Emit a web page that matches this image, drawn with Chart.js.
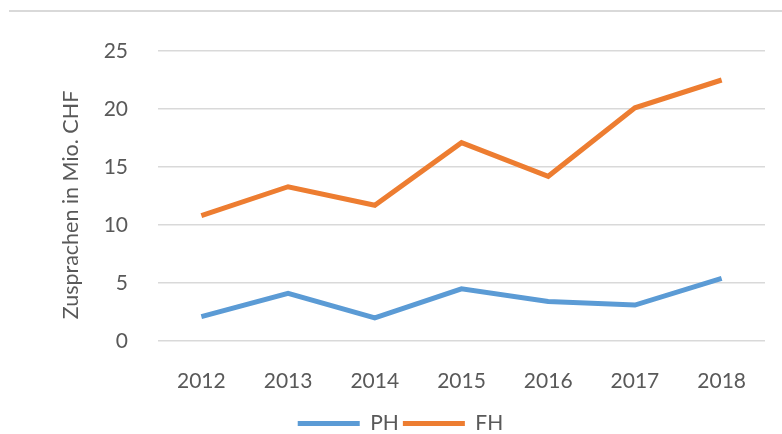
<!DOCTYPE html>
<html>
<head>
<meta charset="utf-8">
<script src="https://cdn.jsdelivr.net/npm/chart.js@4.4.1/dist/chart.umd.min.js"></script>
<style>
  html, body { margin: 0; padding: 0; background: #ffffff; }
  #wrap { position: relative; width: 782px; height: 434px; }
</style>
</head>
<body>
<div id="wrap"><canvas id="chart"></canvas></div>
<script>
// Jahre und Zusprachen (Mio. CHF)
const years = ['2012', '2013', '2014', '2015', '2016', '2017', '2018'];
const phValues = [2.1, 4.1, 2.0, 4.5, 3.4, 3.1, 5.4];
const fhValues = [10.8, 13.3, 11.7, 17.1, 14.2, 20.1, 22.5];
const yTicks = [0, 5, 10, 15, 20, 25];
const yTitle = 'Zusprachen in Mio. CHF';

const textColor = '#595959';
const gridColor = '#d9d9d9';
const fontFamily = 'Lato, "Open Sans", sans-serif';

// thin frame line at the top, like the Excel chart border,
// and the rotated y axis title (sits a bit below the plot centre)
const chartDecor = {
  id: 'chartDecor',
  beforeDraw: function (chart) {
    const ctx = chart.ctx;
    ctx.save();
    ctx.strokeStyle = gridColor;
    ctx.lineWidth = 2;
    ctx.beginPath();
    ctx.moveTo(9, 11);
    ctx.lineTo(chart.width, 11);
    ctx.stroke();
    ctx.restore();
  },
  afterDraw: function (chart) {
    const ctx = chart.ctx;
    const area = chart.chartArea;
    ctx.save();
    ctx.translate(71, (area.top + area.bottom) / 2 + 9);
    ctx.rotate(-Math.PI / 2);
    ctx.fillStyle = textColor;
    ctx.font = '21.5px ' + fontFamily;
    ctx.textAlign = 'center';
    ctx.textBaseline = 'middle';
    ctx.fillText(yTitle, 0, 0);
    ctx.restore();
  }
};

document.addEventListener('DOMContentLoaded', function () {
  const canvas = document.getElementById('chart');
  new Chart(canvas, {
    type: 'line',
    data: {
      labels: years,
      datasets: [
        {
          label: 'PH',
          data: phValues,
          borderColor: '#5b9bd5',
          backgroundColor: '#5b9bd5',
          borderWidth: 5,
          pointRadius: 0,
          tension: 0
        },
        {
          label: 'FH',
          data: fhValues,
          borderColor: '#ed7d31',
          backgroundColor: '#ed7d31',
          borderWidth: 5,
          pointRadius: 0,
          tension: 0
        }
      ]
    },
    options: {
      responsive: true,
      maintainAspectRatio: false,
      animation: false,
      layout: {
        padding: { top: 51, right: 17, bottom: -10, left: 36 }
      },
      scales: {
        x: {
          offset: true,
          grid: { display: false, drawTicks: false },
          border: { display: false },
          ticks: {
            color: textColor,
            font: { family: fontFamily, size: 21 },
            padding: 28,
            maxRotation: 0
          },
          afterFit: function (scale) {
            scale.height = 68;
          }
        },
        y: {
          min: 0,
          max: 25,
          afterBuildTicks: function (scale) {
            scale.ticks = yTicks.map(function (v) { return { value: v }; });
          },
          grid: { color: gridColor, lineWidth: 1.5, drawTicks: false },
          border: { display: false },
          ticks: {
            color: textColor,
            font: { family: fontFamily, size: 21 },
            padding: 30
          },
          afterFit: function (scale) {
            scale.width = 122;
          }
        }
      },
      plugins: {
        legend: {
          position: 'bottom',
          labels: {
            color: textColor,
            font: { family: fontFamily, size: 21 },
            boxWidth: 62,
            boxHeight: 5,
            padding: 4,
            generateLabels: function (chart) {
              const items = Chart.defaults.plugins.legend.labels.generateLabels(chart);
              items.forEach(function (item) { item.lineWidth = 0; });
              return items;
            }
          }
        },
        tooltip: { enabled: false }
      }
    },
    plugins: [chartDecor]
  });
});
</script>
</body>
</html>
